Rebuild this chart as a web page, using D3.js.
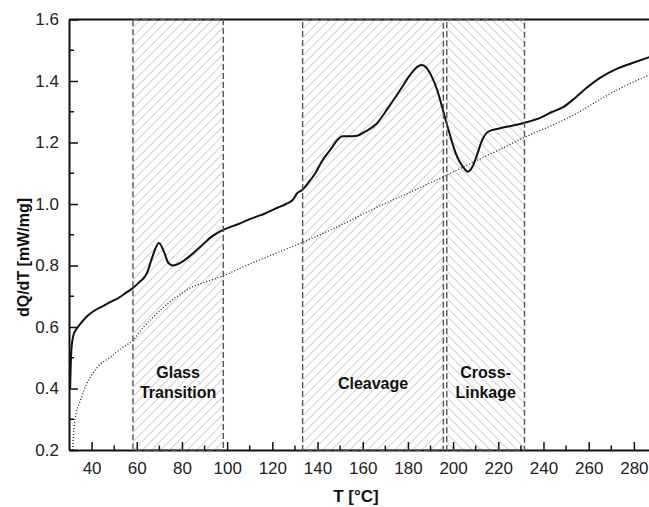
<!DOCTYPE html>
<html>
<head>
<meta charset="utf-8">
<script src="https://cdn.jsdelivr.net/npm/d3@7"></script>
<style>
  body { margin: 0; background: #fff; }
  text { font-family: Arial, "Liberation Sans", sans-serif; }
</style>
</head>
<body>
<div id="chart"></div>
<script>
// sample curve (solid) : temperature / heat flow
var sampleT = [30.5, 31, 32, 33, 35, 38, 41, 45, 48, 52, 55, 58.3, 61, 64.5, 67, 69.8, 72, 74, 76, 80, 84, 88, 93, 98,
  105, 111.5, 117, 122, 126, 129, 131, 133, 136, 139, 142, 146, 149, 151, 154, 157.5, 161, 166, 171, 176.5, 181, 184,
  186, 188, 190.5, 193, 195.5, 198, 200, 202, 204, 206.6, 208.5, 210.6, 213, 215.5, 220, 226.5, 232, 238.5, 244,
  248.7, 254, 259, 265, 272.6, 280, 287];
var sampleQ = [0.40, 0.52, 0.575, 0.59, 0.61, 0.635, 0.652, 0.668, 0.68, 0.695, 0.71, 0.727, 0.745, 0.775, 0.83, 0.873,
  0.845, 0.808, 0.80, 0.812, 0.834, 0.86, 0.893, 0.915, 0.935, 0.955, 0.97, 0.987, 1.0, 1.013, 1.035, 1.045, 1.07,
  1.10, 1.14, 1.18, 1.21, 1.22, 1.22, 1.222, 1.235, 1.26, 1.31, 1.37, 1.42, 1.445, 1.452, 1.445, 1.415, 1.37, 1.305,
  1.24, 1.19, 1.15, 1.125, 1.105, 1.12, 1.16, 1.21, 1.235, 1.245, 1.255, 1.265, 1.28, 1.30, 1.315, 1.345, 1.377,
  1.41, 1.44, 1.46, 1.478];

// reference curve (dotted)
var refT = [31.6, 32, 32.7, 35, 37.5, 40.6, 44, 48, 53, 58.3, 63, 67, 72, 77, 80, 84.5, 90, 98, 110, 120, 133.6, 150,
  165, 180, 196, 210, 220, 232, 245, 255, 265, 275, 287];
var refQ = [0.2, 0.25, 0.3, 0.36, 0.41, 0.45, 0.48, 0.50, 0.53, 0.557, 0.60, 0.63, 0.665, 0.695, 0.71, 0.73, 0.745,
  0.766, 0.805, 0.835, 0.876, 0.93, 0.985, 1.035, 1.09, 1.14, 1.175, 1.218, 1.26, 1.296, 1.34, 1.38, 1.42];

// shaded regions
var regionNames = [["Glass", "Transition"], ["Cleavage"], ["Cross-", "Linkage"]];
var regionStart = [58.3, 133.4, 197.2];
var regionEnd = [98.3, 195.7, 231.6];
var regionHatch = ["fwd", "fwd", "back"];

var xTicks = [40, 60, 80, 100, 120, 140, 160, 180, 200, 220, 240, 260, 280];
var yTicks = [0.2, 0.4, 0.6, 0.8, 1.0, 1.2, 1.4, 1.6];

var svgWidth = 649, svgHeight = 507;
var margin = { top: 19.5, right: 0, bottom: 57, left: 69 };
var chartWidth = svgWidth - margin.left - margin.right;
var chartHeight = svgHeight - margin.top - margin.bottom;

var svg = d3.select("#chart").append("svg")
  .attr("width", svgWidth)
  .attr("height", svgHeight);

var defs = svg.append("defs");
defs.append("clipPath").attr("id", "clip")
  .append("rect").attr("width", chartWidth).attr("height", chartHeight);

// hatch patterns
var fwd = defs.append("pattern").attr("id", "fwd")
  .attr("patternUnits", "userSpaceOnUse").attr("width", 9).attr("height", 9);
fwd.append("path").attr("d", "M-2,2 L2,-2 M0,9 L9,0 M7,11 L11,7")
  .attr("stroke", "#bdbdbd").attr("stroke-width", 1);
var back = defs.append("pattern").attr("id", "back")
  .attr("patternUnits", "userSpaceOnUse").attr("width", 9).attr("height", 9);
back.append("path").attr("d", "M-2,7 L2,11 M0,0 L9,9 M7,-2 L11,2")
  .attr("stroke", "#bdbdbd").attr("stroke-width", 1);

var chartGroup = svg.append("g")
  .attr("transform", `translate(${margin.left}, ${margin.top})`);

var x = d3.scaleLinear().domain([30, 286.7]).range([0, chartWidth]);
var y = d3.scaleLinear().domain([0.2, 1.6]).range([chartHeight, 0]);

// regions
var regions = regionStart.map((s, i) => ({ s: s, e: regionEnd[i], names: regionNames[i], hatch: regionHatch[i] }));

chartGroup.selectAll(".region").data(regions).enter()
  .append("rect")
  .attr("x", d => x(d.s))
  .attr("y", 0)
  .attr("width", d => x(d.e) - x(d.s))
  .attr("height", chartHeight)
  .attr("fill", d => `url(#${d.hatch})`);

// curves
var lineSample = d3.line().x(d => x(d[0])).y(d => y(d[1])).curve(d3.curveMonotoneX);
var plot = chartGroup.append("g").attr("clip-path", "url(#clip)");

plot.append("path")
  .datum(refT.map((t, i) => [t, refQ[i]]))
  .attr("d", lineSample)
  .attr("fill", "none")
  .attr("stroke", "#222")
  .attr("stroke-width", 1.3)
  .attr("stroke-dasharray", "1,2");

plot.append("path")
  .datum(sampleT.map((t, i) => [t, sampleQ[i]]))
  .attr("d", lineSample)
  .attr("fill", "none")
  .attr("stroke", "#111")
  .attr("stroke-width", 2);

// axes frame
chartGroup.append("line").attr("x1", 0).attr("x2", chartWidth).attr("y1", 0).attr("y2", 0)
  .attr("stroke", "#111").attr("stroke-width", 2);

var bottomAxis = d3.axisBottom(x).tickValues(xTicks).tickSize(-8).tickPadding(12).tickSizeOuter(0);
var leftAxis = d3.axisLeft(y).tickValues(yTicks).tickSize(-9).tickPadding(10).tickFormat(d3.format(".1f")).tickSizeOuter(0);

var gx = chartGroup.append("g").attr("transform", `translate(0, ${chartHeight})`).call(bottomAxis);
var gy = chartGroup.append("g").call(leftAxis);

// minor ticks
gx.selectAll(".minor").data(d3.range(50, 290, 20)).enter()
  .append("line").attr("class", "minor")
  .attr("x1", d => x(d)).attr("x2", d => x(d))
  .attr("y1", 0).attr("y2", -4.5)
  .attr("stroke", "#111").attr("stroke-width", 1.5);
gy.selectAll(".minor").data(d3.range(0.3, 1.6, 0.2)).enter()
  .append("line").attr("class", "minor")
  .attr("x1", 0).attr("x2", 5)
  .attr("y1", d => y(d)).attr("y2", d => y(d))
  .attr("stroke", "#111").attr("stroke-width", 1.5);

[gx, gy].forEach(function(g) {
  g.select(".domain").attr("stroke", "#111").attr("stroke-width", 2);
  g.selectAll(".tick line").attr("stroke", "#111").attr("stroke-width", 1.5);
  g.selectAll(".tick text").attr("fill", "#222").style("font-size", "17px");
});

// region borders (dashed)
chartGroup.selectAll(".regionBorder").data(regions).enter()
  .append("rect")
  .attr("x", d => x(d.s))
  .attr("y", 0)
  .attr("width", d => x(d.e) - x(d.s))
  .attr("height", chartHeight)
  .attr("fill", "none")
  .attr("stroke", "#555")
  .attr("stroke-width", 1.4)
  .attr("stroke-dasharray", "6,3");

// region labels
var labelY = [378, 389, 378];
regions.forEach(function(d, i) {
  var t = chartGroup.append("text")
    .attr("text-anchor", "middle")
    .attr("x", x((d.s + d.e) / 2))
    .attr("y", labelY[i] - margin.top)
    .style("font-size", "16px")
    .style("font-weight", "bold")
    .attr("fill", "#111");
  d.names.forEach(function(n, j) {
    t.append("tspan").attr("x", x((d.s + d.e) / 2)).attr("dy", j === 0 ? 0 : 20).text(n);
  });
});

// axis labels
chartGroup.append("text")
  .attr("transform", "rotate(-90)")
  .attr("y", 29 - margin.left)
  .attr("x", 212 - margin.top - chartHeight)
  .attr("text-anchor", "middle")
  .style("font-size", "16px")
  .style("font-weight", "bold")
  .attr("fill", "#111")
  .text("dQ/dT [mW/mg]");

chartGroup.append("text")
  .attr("x", x(157))
  .attr("y", chartHeight + 52)
  .attr("text-anchor", "middle")
  .style("font-size", "17px")
  .style("font-weight", "bold")
  .attr("fill", "#111")
  .text("T [°C]");
</script>
</body>
</html>
